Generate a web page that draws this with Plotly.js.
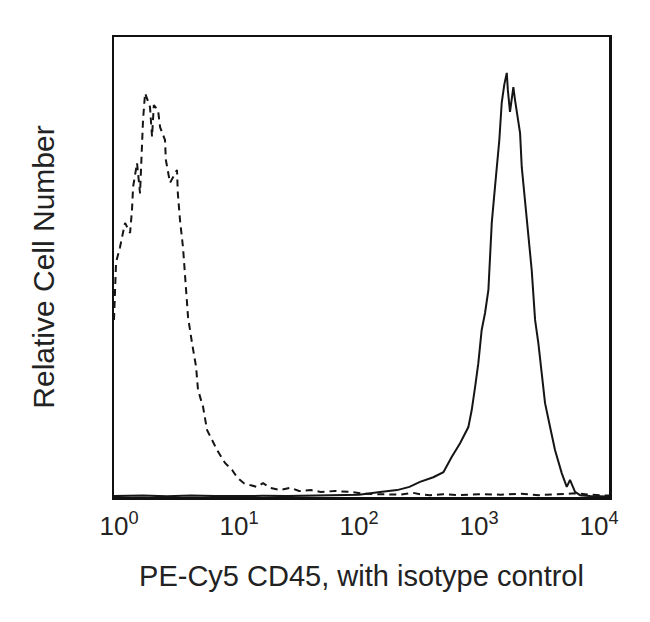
<!DOCTYPE html>
<html>
<head>
<meta charset="utf-8">
<script src="https://cdn.plot.ly/plotly-3.0.1.min.js"></script>
<style>html,body{margin:0;padding:0;background:#fff;}#chart{width:650px;height:622px;}</style>
</head>
<body>
<div id="chart"></div>
<script>
// x values are log10 of fluorescence intensity; y values are relative cell number (0-100)
const isotypeLogX = [-0.042,-0.025,0.008,0.05,0.092,0.108,0.117,0.15,0.175,0.19,0.2,0.217,0.24,0.258,0.275,0.29,0.325,0.342,0.383,0.39,0.425,0.458,0.483,0.49,0.508,0.533,0.55,0.575,0.608,0.642,0.658,0.7,0.733,0.775,0.817,0.883,0.942,0.983,1.04,1.09,1.15,1.2,1.26,1.34,1.43,1.5,1.6,1.68,1.8,1.93,2.05,2.18,2.34,2.45,2.51,2.59,2.7,2.84,3.0,3.18,3.35,3.5,3.65,3.8,3.925,4.083];
const isotypeCount = [38.5,51,54.3,59.6,57.4,62.4,67.4,72.6,66,77,82,87.8,86.3,84.8,78.3,85.2,84.1,80.4,77.6,73.3,68.3,70,71.1,66,60.2,54.3,47.8,39.1,33.5,28.3,23.3,19.6,14.6,12.4,10.2,7.4,5.9,4.3,3,2.6,2.2,3,2,1.5,2,1.3,1.5,1.1,1.3,1.1,0.7,0.6,0.5,0.9,0.6,0.4,0.6,0.4,0.6,0.5,0.7,0.4,0.6,0.8,0.5,0.3];
const cd45LogX = [-0.042,0.2,0.4,0.6,0.8,1.0,1.2,1.4,1.6,1.8,2.0,2.175,2.317,2.42,2.508,2.619,2.703,2.772,2.842,2.911,2.939,2.967,2.994,3.022,3.05,3.078,3.106,3.133,3.169,3.189,3.21,3.231,3.24,3.258,3.275,3.286,3.3,3.314,3.342,3.356,3.383,3.411,3.439,3.467,3.494,3.522,3.55,3.592,3.633,3.689,3.731,3.758,3.8,3.842,3.925,4.083];
const cd45Count = [0.2,0.3,0.15,0.35,0.2,0.3,0.25,0.2,0.3,0.3,0.5,1.1,1.5,2.2,3.3,4.3,5.4,8.7,11.7,15.2,18.9,23.9,29.1,36.3,40,45,59.6,67.4,77.6,85.7,89.6,92.2,88.5,83.7,87.4,89.1,86.3,84.1,79.1,71.7,63.9,57.4,49.3,38.5,33.5,27,20.4,15.2,10.2,5.2,2.2,3.7,1.1,0.4,0.2,0.1];
const decadeTicks = [0,1,2,3,4];
const decadeLabels = ['10<sup>0</sup>','10<sup>1</sup>','10<sup>2</sup>','10<sup>3</sup>','10<sup>4</sup>'];

const fontFam = 'Liberation Sans, Arial, Helvetica, sans-serif';
const traces = [
  {x: isotypeLogX, y: isotypeCount, type: 'scatter', mode: 'lines', name: 'Isotype control',
   line: {color: '#151515', width: 2, dash: '7px,5px'}, hoverinfo: 'skip'},
  {x: cd45LogX, y: cd45Count, type: 'scatter', mode: 'lines', name: 'PE-Cy5 CD45',
   line: {color: '#151515', width: 2}, hoverinfo: 'skip'}
];
const layout = {
  width: 650, height: 622,
  margin: {l: 114, r: 41, t: 37, b: 125},
  paper_bgcolor: '#fff', plot_bgcolor: '#fff',
  showlegend: false,
  font: {family: fontFam, color: '#222'},
  xaxis: {
    range: [-0.042, 4.083], tickmode: 'array', tickvals: decadeTicks, ticktext: decadeLabels,
    showgrid: false, zeroline: false, ticks: '', showline: true, mirror: true,
    linecolor: '#111', linewidth: 2.5, ticklabelstandoff: 4,
    tickfont: {size: 26, family: fontFam, color: '#222'},
    title: {text: 'PE-Cy5 CD45, with isotype control', font: {size: 29, family: fontFam, color: '#222'}, standoff: 26}
  },
  yaxis: {
    range: [0, 100], showticklabels: false, showgrid: false, zeroline: false, ticks: '',
    showline: true, mirror: true, linecolor: '#111', linewidth: 2.5,
    title: {text: 'Relative Cell Number', font: {size: 30, family: fontFam, color: '#222'}, standoff: 48}
  }
};
Plotly.newPlot('chart', traces, layout, {staticPlot: true, displayModeBar: false});
</script>
</body>
</html>
